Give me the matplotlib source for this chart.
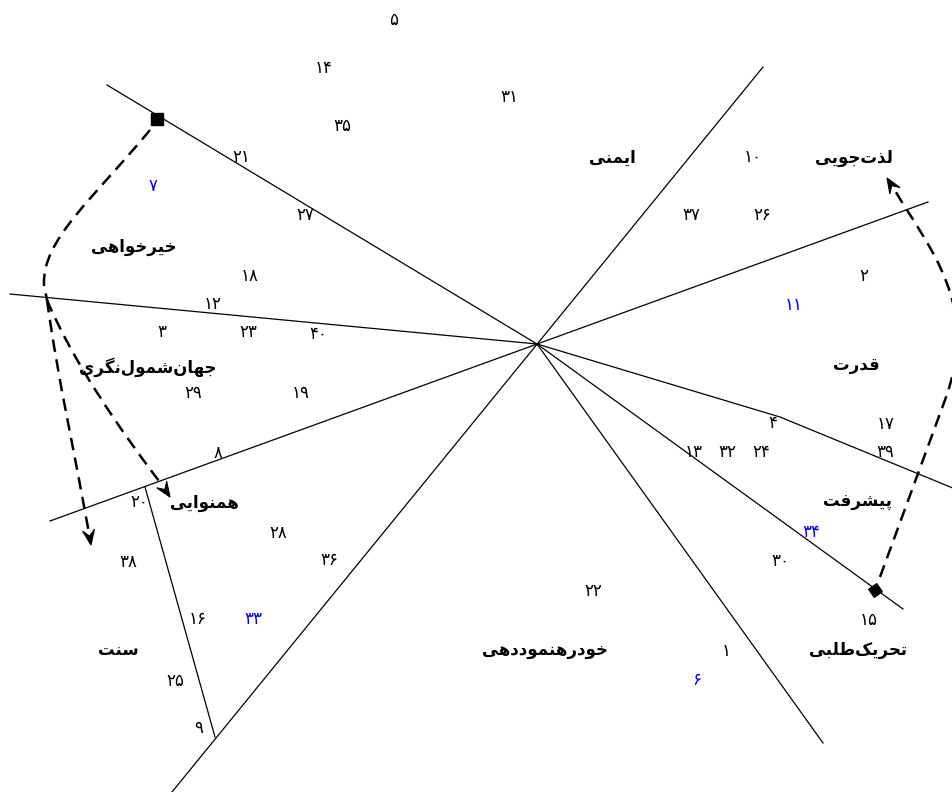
import numpy as np
import matplotlib
matplotlib.use("Agg")
import matplotlib.pyplot as plt
from matplotlib.path import Path
from matplotlib.patches import PathPatch

# Smallest space analysis of 40 value items (screen-like coordinates, y down)
item_ids = [5, 14, 31, 35, 21, 7, 27, 18, 12, 3, 23, 40, 29, 19, 8, 20, 28, 38, 36, 16,
            33, 25, 9, 10, 37, 26, 2, 11, 4, 17, 13, 32, 24, 39, 34, 30, 22, 15, 1, 6]
item_x = [394, 324, 509, 342, 241, 153, 305, 250, 213, 162, 248, 318, 193, 301, 218, 139, 278, 128, 329, 198,
          253, 175, 199, 753, 691, 762, 864, 794, 773, 886, 694, 727, 761, 885, 811, 780, 593, 869, 726, 697]
item_y = [20, 68, 97, 126, 157, 186, 215, 276, 304, 332, 332, 334, 393, 393, 453, 502, 533, 562, 560, 619,
          619, 681, 728, 157, 215, 215, 276, 305, 423, 424, 452, 452, 452, 452, 532, 561, 591, 620, 651, 680]
marker_items = [7, 33, 11, 34, 6]

region_names = ["ایمنی", "لذت\u200cجویی", "خیرخواهی", "جهان\u200cشمول\u200cنگری", "قدرت",
                "پیشرفت", "همنوایی", "سنت", "خودرهنموددهی", "تحریک\u200cطلبی"]
region_x = [612, 854, 134, 148, 856, 858, 204, 118, 545, 858]
region_y = [158, 158, 247, 367, 365, 501, 503, 650, 650, 650]

# partition lines
partitions = [
    [(107, 85), (537, 344)],
    [(10, 294), (537, 344)],
    [(50, 521), (928, 202)],
    [(763, 67), (172, 792)],
    [(537, 344), (903, 609)],
    [(537, 344), (780, 417), (960, 491)],
    [(537, 344), (823, 743)],
    [(145, 487), (215, 737)],
]
anchors_x = [157, 875]
anchors_y = [119, 590]

FORMS = {
    'ا': (0xFE8D, 0xFE8E), 'د': (0xFEA9, 0xFEAA), 'ذ': (0xFEAB, 0xFEAC),
    'ر': (0xFEAD, 0xFEAE), 'و': (0xFEED, 0xFEEE),
    'ب': (0xFE8F, 0xFE90, 0xFE91, 0xFE92), 'پ': (0xFB56, 0xFB57, 0xFB58, 0xFB59),
    'ت': (0xFE95, 0xFE96, 0xFE97, 0xFE98), 'ج': (0xFE9D, 0xFE9E, 0xFE9F, 0xFEA0),
    'ح': (0xFEA1, 0xFEA2, 0xFEA3, 0xFEA4), 'خ': (0xFEA5, 0xFEA6, 0xFEA7, 0xFEA8),
    'س': (0xFEB1, 0xFEB2, 0xFEB3, 0xFEB4), 'ش': (0xFEB5, 0xFEB6, 0xFEB7, 0xFEB8),
    'ط': (0xFEC1, 0xFEC2, 0xFEC3, 0xFEC4), 'ف': (0xFED1, 0xFED2, 0xFED3, 0xFED4),
    'ق': (0xFED5, 0xFED6, 0xFED7, 0xFED8), 'ک': (0xFB8E, 0xFB8F, 0xFB90, 0xFB91),
    'گ': (0xFB92, 0xFB93, 0xFB94, 0xFB95), 'ل': (0xFEDD, 0xFEDE, 0xFEDF, 0xFEE0),
    'م': (0xFEE1, 0xFEE2, 0xFEE3, 0xFEE4), 'ن': (0xFEE5, 0xFEE6, 0xFEE7, 0xFEE8),
    'ه': (0xFEE9, 0xFEEA, 0xFEEB, 0xFEEC), 'ی': (0xFBFC, 0xFBFD, 0xFBFE, 0xFBFF),
}


def shape(word):
    # simple Persian joining + visual (RTL) ordering
    out = []
    for i, c in enumerate(word):
        if c not in FORMS:
            if c != '\u200c':
                out.append(c)
            continue
        f = FORMS[c]
        prev = word[i - 1] if i > 0 else None
        nxt = word[i + 1] if i + 1 < len(word) else None
        jp = prev in FORMS and len(FORMS[prev]) == 4
        jn = len(f) == 4 and nxt in FORMS
        idx = 3 if (jp and jn) else 1 if jp else 2 if jn else 0
        out.append(chr(f[idx]))
    return ''.join(reversed(out))


def fa_digits(n):
    return str(n).translate(str.maketrans("0123456789", "۰۱۲۳۴۵۶۷۸۹"))


def stealth_head(ax, tip, frm, length=15, width=12):
    # filled barbed arrow head pointing from frm to tip (pixel units)
    d = np.array([tip[0] - frm[0], tip[1] - frm[1]], dtype=float)
    d /= np.hypot(*d)
    n = np.array([-d[1], d[0]])
    t = np.array(tip, dtype=float)
    pts = [t, t - length * d + width / 2 * n, t - 0.6 * length * d,
           t - length * d - width / 2 * n]
    ax.add_patch(plt.Polygon(pts, closed=True, facecolor='black', edgecolor='black', lw=0.8))


fig = plt.figure(figsize=(9.52, 7.92), dpi=100)
ax = fig.add_axes([0, 0, 1, 1])
ax.set_xlim(0, 952)
ax.set_ylim(792, 0)
ax.axis('off')

for line in partitions:
    xs, ys = zip(*line)
    ax.plot(xs, ys, color='black', lw=0.9)

ax.plot(anchors_x[0], anchors_y[0], marker='s', ms=8, color='black')
ax.plot(anchors_x[1], anchors_y[1], marker=(4, 0, 80), ms=10, color='black')

dash = dict(facecolor='none', edgecolor='black', lw=1.8, linestyle=(0, (5, 3)))
C4, M, L = Path.CURVE4, Path.MOVETO, Path.LINETO
left_curve = Path([(150, 130), (92, 200), (42, 240), (44, 285), (47, 300)],
                  [M, C4, C4, C4, L])
branch_a = Path([(47, 300), (72, 360), (120, 430), (162, 485)], [M, C4, C4, C4])
branch_b = Path([(47, 300), (58, 380), (76, 460), (89, 533)], [M, C4, C4, C4])
right_curve = Path([(880, 577), (945, 400), (980, 305), (931, 251), (894, 189)],
                   [M, L, C4, C4, C4])
for p in [left_curve, branch_a, branch_b, right_curve]:
    ax.add_patch(PathPatch(p, **dash))

stealth_head(ax, (170, 497), (160, 482))
stealth_head(ax, (91, 545), (88, 527))
stealth_head(ax, (887, 178), (897, 194))

for n, x, y in zip(item_ids, item_x, item_y):
    col = 'blue' if n in marker_items else 'black'
    ax.text(x, y, fa_digits(n), ha='center', va='center', fontsize=12, color=col,
            family=['DejaVu Sans'])

for name, x, y in zip(region_names, region_x, region_y):
    ax.text(x, y, shape(name), ha='center', va='center', fontsize=12, fontweight='bold',
            family=['DejaVu Sans'])

fig.savefig('out.png', dpi=100)
